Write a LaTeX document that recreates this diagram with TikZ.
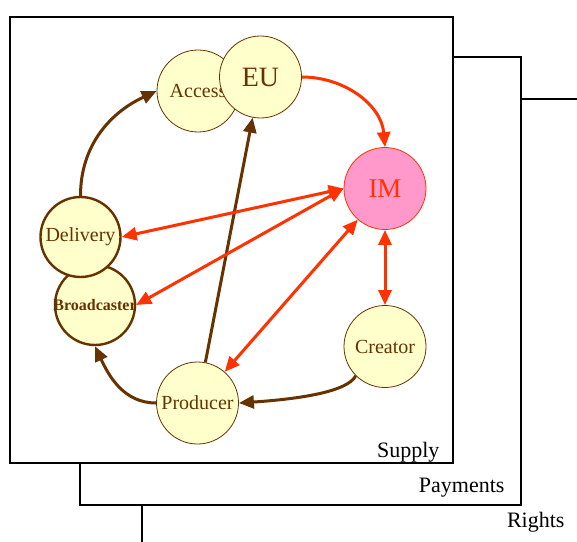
\documentclass[tikz,border=0pt]{standalone}
\usepackage{fontspec}
\setmainfont{Liberation Serif}
\usetikzlibrary{arrows.meta}
\definecolor{brn}{HTML}{663300}
\definecolor{rd}{HTML}{FF3300}
\definecolor{cream}{HTML}{FFFFCC}
\definecolor{pinkim}{HTML}{FF99CC}

\begin{document}
\begin{tikzpicture}[x=1pt,y=1pt,
  layerbox/.style={draw=black, line width=2pt, fill=white},
  layername/.style={anchor=base east, font=\fontsize{22}{26}\selectfont},
  actor/.style={circle, draw=brn, fill=cream, line width=0.8pt, minimum size=82pt,
    inner sep=0pt, text=brn, font=\fontsize{20}{24}\selectfont},
  thickactor/.style={actor, line width=2.4pt, minimum size=80pt},
  flow/.style={draw=brn, line width=3pt, -{Triangle[length=15pt,width=13pt]}},
  redflow/.style={draw=rd, line width=3pt, -{Triangle[length=15pt,width=13pt]}},
  link/.style={draw=rd, line width=3pt,
    {Triangle[length=15pt,width=13pt]}-{Triangle[length=15pt,width=13pt]}}
]
\useasboundingbox (0,0) rectangle (577,541);

% stacked layers: Rights behind Payments behind Supply
\begin{scope}
  \clip (0,0) rectangle (577,541);
  \draw[layerbox] (142,-10) rectangle (600,442);
  \node[layername] (rights) at (568,14) {Rights};
  \draw[layerbox] (80,36) rectangle (521,484);
  \node[layername] (payments) at (508,49) {Payments};
  \draw[layerbox] (10,78) rectangle (453,524);
  \node[layername] (supply) at (443,84) {Supply};
\end{scope}

% actors
\node[actor] (Access) at (198,450) {Access};
\node[actor, font=\fontsize{28}{32}\selectfont] (EU) at (260.5,464) {EU};
\node[actor, draw=rd, fill=pinkim, text=rd, font=\fontsize{27}{30}\selectfont] (IM) at (385,352.5) {IM};
\node[actor] (Creator) at (385,194.5) {Creator};
\node[actor] (Producer) at (197.5,138) {Producer};
\node[thickactor, font=\bfseries\fontsize{16}{19}\selectfont] (Broadcaster) at (95,236) {\makebox[0pt]{Broadcaster}};
\node[thickactor] (Delivery) at (80.5,304) {Delivery};

% supply chain flows
\draw[flow] (Delivery.north) to[out=90,in=205] (Access.west);
\draw[flow] (Producer.west) to[out=180,in=-65] (Broadcaster.south);
\draw[flow] (Producer) -- (EU);
\draw[flow] (Creator.-135) .. controls +(-8,-16) and +(60,4) .. (Producer.east);

% information management links
\draw[redflow] (EU.east) to[out=0,in=95] (IM.north);
\draw[link] (Delivery.east) -- (IM.west);
\draw[link] (Broadcaster.east) -- (IM.west);
\draw[link] (IM) -- (Producer);
\draw[link] (IM) -- (Creator);
\end{tikzpicture}
\end{document}
